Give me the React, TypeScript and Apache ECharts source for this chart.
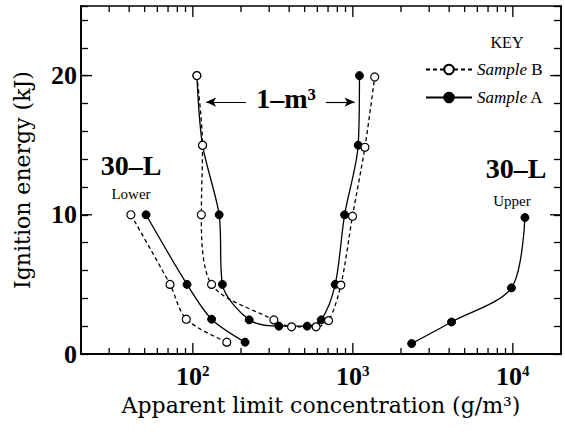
import React, { useEffect, useRef } from 'react';
import * as echarts from 'echarts';

// Axis ranges
const X_MIN = 20;
const X_MAX = 20000;
const Y_MIN = 0;
const Y_MAX = 25;

// Tick positions
const xMajorTicks = [100, 1000, 10000];
const xMinorTicks = [30, 40, 50, 60, 70, 80, 90, 200, 300, 400, 500, 600, 700, 800, 900, 2000, 3000, 4000, 5000, 6000, 7000, 8000, 9000];
const yLabelTicks = [0, 10, 20];

// Data: [concentration g/m3, ignition energy kJ]
const lower30L_B = [[41, 10], [72, 5], [91, 2.5], [163, 0.85]];
const lower30L_A = [[51, 10], [92, 5], [131, 2.5], [212, 0.85]];
const m3_B = [[106, 20], [115, 15], [113, 10], [131, 5], [321, 2.45], [414, 1.95], [589, 1.95], [705, 2.4], [842, 4.95], [995, 9.9], [1190, 14.85], [1370, 19.9]];
const m3_A = [[106, 20], [115, 15], [146, 10], [153, 5], [225, 2.45], [345, 2], [518, 2], [635, 2.45], [776, 5], [888, 10], [1080, 15], [1100, 20]];
const upper30L_A = [[2330, 0.75], [4140, 2.3], [9800, 4.75], [11900, 9.8]];

// Arrow annotation for 1-m3 (data coords)
const arrowY = 18.1;
const arrowLeft = [215, 121];
const arrowRight = [678, 1025];

const SERIF = 'Liberation Serif';
const CENT = 'DejaVu Serif';
const GRID = { left: 81, right: 4, top: 6, bottom: 80 };

export default function App() {
  const mainRef = useRef<HTMLDivElement>(null);
  const tickRef = useRef<HTMLDivElement>(null);

  useEffect(() => {
    document.body.style.margin = '0';
    const chart = echarts.init(mainRef.current!, null, { renderer: 'svg' });

    const lineSeries = (name: string, data: number[][], dashed: boolean, extra: any = {}) => ({
      type: 'line',
      name,
      data,
      smooth: 0.3,
      symbol: 'circle',
      symbolSize: 8,
      showSymbol: true,
      z: dashed ? 4 : 3,
      lineStyle: { color: '#000', width: 1.3, type: dashed ? [4, 3] : 'solid' },
      itemStyle: dashed
        ? { color: '#fff', borderColor: '#000', borderWidth: 1.2 }
        : { color: '#000', borderColor: '#000', borderWidth: 1 },
      ...extra,
    });

    const isPow10 = (v: number) => {
      const l = Math.log10(v);
      return Math.abs(l - Math.round(l)) < 1e-6 && v >= 100;
    };

    const option: any = {
      animation: false,
      grid: { ...GRID, show: true, borderColor: '#000', borderWidth: 1.5, outerBoundsMode: 'none' },
      legend: {
        data: ['Sample B', 'Sample A'],
        orient: 'vertical',
        left: 420,
        top: 56,
        itemWidth: 46,
        itemHeight: 12,
        itemGap: 11,
        selectedMode: false,
        formatter: (n: string) => (n === 'Sample B' ? '{i|Sample} B' : '{i|Sample} A'),
        textStyle: {
          fontFamily: SERIF,
          fontSize: 17,
          color: '#000',
          rich: { i: { fontStyle: 'italic', fontFamily: SERIF, fontSize: 17, color: '#000' } },
        },
      },
      xAxis: {
        type: 'log',
        min: X_MIN,
        max: X_MAX,
        axisLine: { show: true, lineStyle: { color: '#000', width: 1.5 } },
        axisTick: { show: false },
        splitLine: { show: false },
        axisLabel: {
          margin: 9,
          formatter: (v: number) => (isPow10(v) ? '{b|10}{s|' + Math.round(Math.log10(v)) + '}' : ''),
          rich: {
            b: { fontFamily: SERIF, fontWeight: 'bold', fontSize: 26, color: '#000', lineHeight: 26 },
            s: { fontFamily: SERIF, fontWeight: 'bold', fontSize: 15, color: '#000', verticalAlign: 'top' },
          },
        },
        name: 'Apparent limit concentration (g/m³)',
        nameLocation: 'middle',
        nameGap: 40,
        nameTextStyle: { fontFamily: CENT, fontSize: 22, color: '#000' },
      },
      yAxis: {
        type: 'value',
        min: Y_MIN,
        max: Y_MAX,
        interval: 2,
        position: 'left',
        axisLine: { show: true, lineStyle: { color: '#000', width: 1.5 } },
        axisTick: { show: false },
        splitLine: { show: false },
        axisLabel: {
          formatter: (v: number) => (yLabelTicks.includes(v) ? String(v) : ''),
          fontFamily: SERIF,
          fontWeight: 'bold',
          fontSize: 26,
          color: '#000',
          margin: 4,
        },
        name: 'Ignition energy (kJ)',
        nameLocation: 'middle',
        nameGap: 48,
        nameTextStyle: { fontFamily: CENT, fontSize: 22, color: '#000' },
      },
      graphic: [
        { type: 'text', x: 507, y: 42, style: { text: 'KEY', fontFamily: SERIF, fontSize: 16, fill: '#000', textAlign: 'center', textVerticalAlign: 'middle' } },
        { type: 'text', x: 131, y: 165, style: { text: '30–L', fontFamily: SERIF, fontWeight: 'bold', fontSize: 28, fill: '#000', textAlign: 'center', textVerticalAlign: 'middle' } },
        { type: 'text', x: 131, y: 194, style: { text: 'Lower', fontFamily: SERIF, fontSize: 15, fill: '#000', textAlign: 'center', textVerticalAlign: 'middle' } },
        { type: 'text', x: 516, y: 168, style: { text: '30–L', fontFamily: SERIF, fontWeight: 'bold', fontSize: 28, fill: '#000', textAlign: 'center', textVerticalAlign: 'middle' } },
        { type: 'text', x: 512, y: 201, style: { text: 'Upper', fontFamily: SERIF, fontSize: 15, fill: '#000', textAlign: 'center', textVerticalAlign: 'middle' } },
        { type: 'text', x: 286, y: 98, style: { text: '1–m³', fontFamily: SERIF, fontWeight: 'bold', fontSize: 28, fill: '#000', textAlign: 'center', textVerticalAlign: 'middle' } },
      ],
      series: [
        lineSeries('Sample A', lower30L_A, false),
        lineSeries('Sample A', m3_A, false, {
          markLine: {
            silent: true,
            symbol: ['none', 'arrow'],
            symbolSize: [7, 10],
            label: { show: false },
            lineStyle: { color: '#000', width: 1.2, type: 'solid' },
            data: [
              [{ coord: [arrowLeft[0], arrowY] }, { coord: [arrowLeft[1], arrowY] }],
              [{ coord: [arrowRight[0], arrowY] }, { coord: [arrowRight[1], arrowY] }],
            ],
          },
        }),
        lineSeries('Sample A', upper30L_A, false),
        lineSeries('Sample B', lower30L_B, true),
        lineSeries('Sample B', m3_B, true),
      ],
    };
    chart.setOption(option);

    // Overlay chart carrying the axis ticks (same grid and scales)
    const ticks = echarts.init(tickRef.current!, null, { renderer: 'svg' });
    const tickData = [
      ...xMinorTicks.map((v) => [v, Y_MIN, 1]),
      ...xMajorTicks.map((v) => [v, Y_MIN, 2]),
      ...yLabelTicks.map((v) => [X_MIN, v, 3]),
    ];
    const hidden = 'rgba(0,0,0,0)';
    ticks.setOption({
      animation: false,
      grid: { ...GRID, show: false, outerBoundsMode: 'none' },
      xAxis: {
        type: 'log', min: X_MIN, max: X_MAX,
        axisTick: { show: false }, splitLine: { show: false },
        axisLine: { show: true, lineStyle: { color: '#000', width: 1.5 } },
        axisLabel: { color: hidden },
      },
      yAxis: [
        { type: 'value', min: Y_MIN, max: Y_MAX, interval: 2, position: 'left', splitLine: { show: false },
          axisLine: { show: true, lineStyle: { color: '#000', width: 1.5 } },
          axisTick: { show: true, inside: true, length: 7, lineStyle: { color: '#000', width: 1.3 } },
          axisLabel: { color: hidden } },
        { type: 'value', min: Y_MIN, max: Y_MAX, interval: 2, position: 'right', splitLine: { show: false },
          axisLine: { show: true, lineStyle: { color: '#000', width: 1.5 } },
          axisTick: { show: true, inside: true, length: 7, lineStyle: { color: '#000', width: 1.3 } },
          axisLabel: { color: hidden } },
      ],
      series: [
        {
          type: 'custom',
          data: tickData,
          encode: { x: 0, y: 1 },
          renderItem: (params: any, api: any) => {
            const kind = api.value(2);
            const st = { stroke: '#000', lineWidth: 1.3 };
            if (kind === 3) {
              const y = api.value(1);
              const a = api.coord([X_MIN, y]);
              const b = api.coord([X_MAX, y]);
              return { type: 'group', children: [
                { type: 'line', shape: { x1: a[0], y1: a[1], x2: a[0] + 11, y2: a[1] }, style: st },
                { type: 'line', shape: { x1: b[0], y1: b[1], x2: b[0] - 11, y2: b[1] }, style: st },
              ] };
            }
            const x = api.value(0);
            const len = kind === 2 ? 11 : 6;
            const a = api.coord([x, Y_MIN]);
            const b = api.coord([x, Y_MAX]);
            return { type: 'group', children: [
              { type: 'line', shape: { x1: a[0], y1: a[1], x2: a[0], y2: a[1] - len }, style: st },
              { type: 'line', shape: { x1: b[0], y1: b[1], x2: b[0], y2: b[1] + len }, style: st },
            ] };
          },
        },
      ],
    });

    return () => {
      ticks.dispose();
      chart.dispose();
    };
  }, []);

  return (
    <div style={{ position: 'relative', width: 565, height: 434 }}>
      <div ref={mainRef} style={{ position: 'absolute', left: 0, top: 0, width: 565, height: 434 }} />
      <div ref={tickRef} style={{ position: 'absolute', left: 0, top: 0, width: 565, height: 434, pointerEvents: 'none' }} />
    </div>
  );
}
